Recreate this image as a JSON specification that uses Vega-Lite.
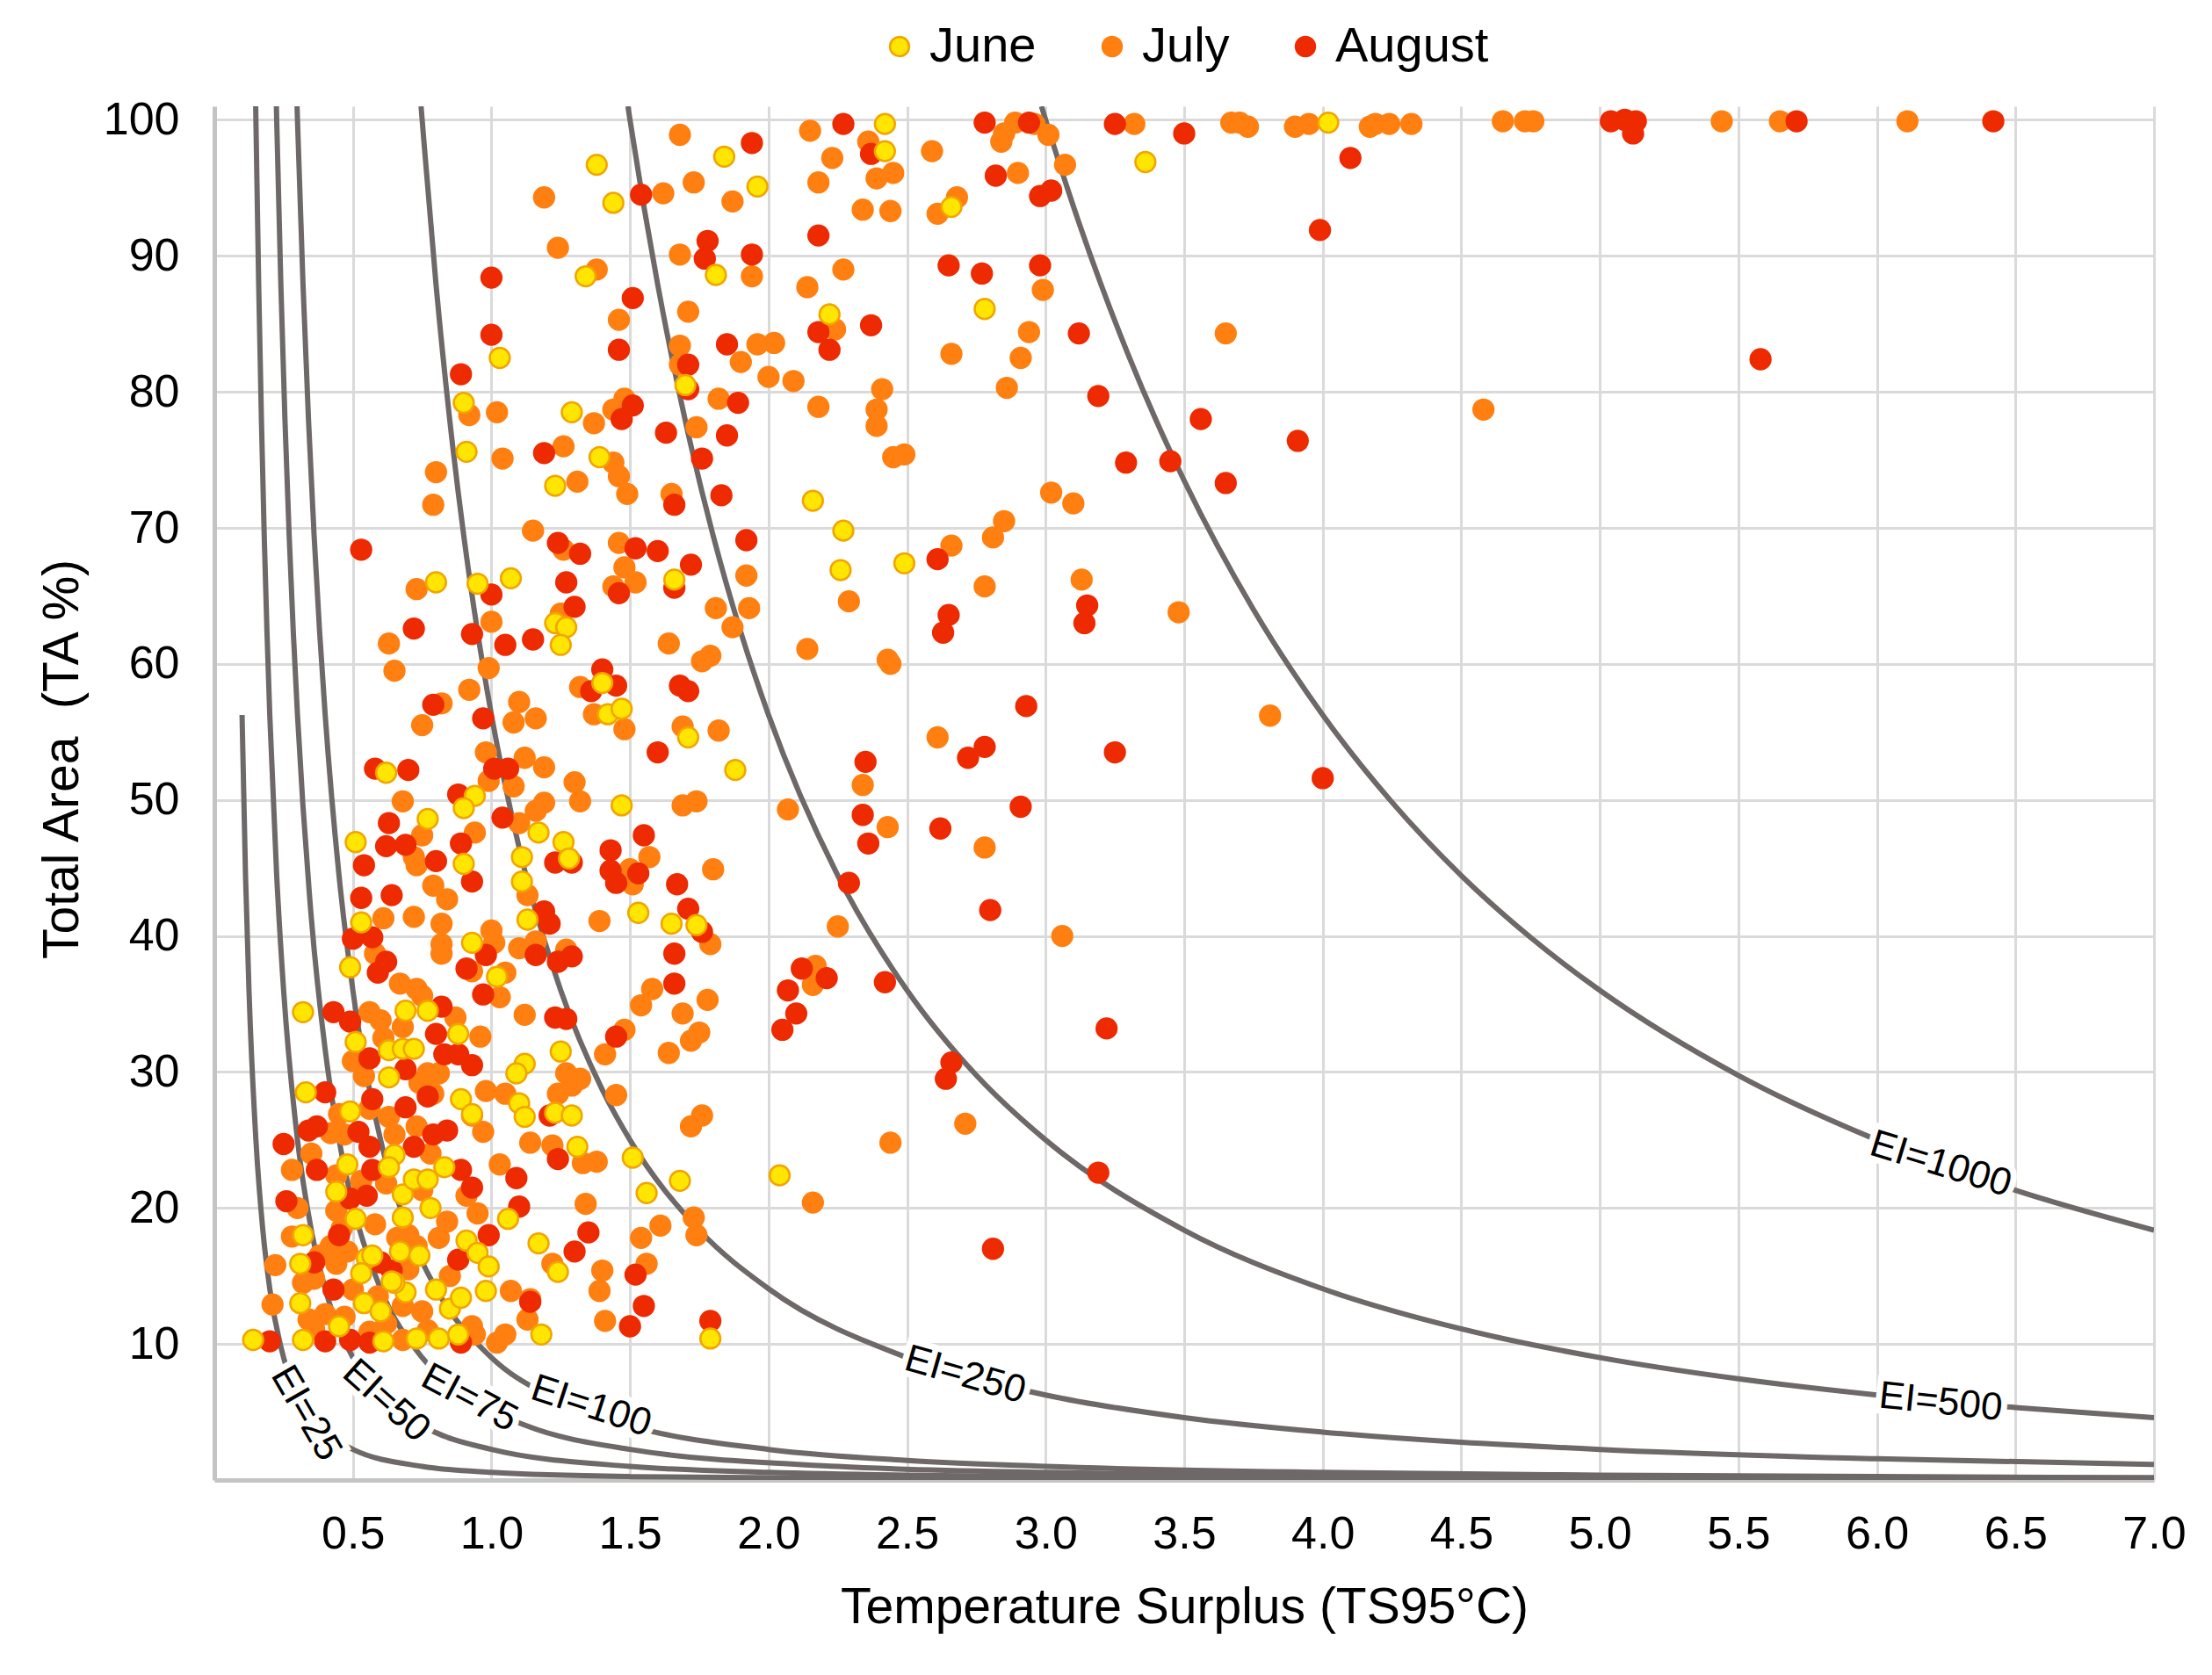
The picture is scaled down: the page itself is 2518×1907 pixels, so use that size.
{
  "$schema": "https://vega.github.io/schema/vega-lite/v6.json",
  "description": "Total area vs temperature surplus by month, with EI iso-lines",
  "width": 2208,
  "height": 1564,
  "autosize": {"type": "none"},
  "padding": {"left": 244, "top": 121, "right": 66, "bottom": 222},
  "background": "white",
  "config": {
    "view": {"stroke": null},
    "font": "Liberation Sans, Arial, sans-serif",
    "axis": {
      "grid": true,
      "gridColor": "#DADADA",
      "gridWidth": 3,
      "domainColor": "#C4C4C4",
      "domainWidth": 5,
      "ticks": false,
      "tickSize": 0,
      "labelFontSize": 52,
      "labelColor": "#000000",
      "titleFontSize": 57,
      "titleFontWeight": "normal",
      "titleColor": "#000000"
    }
  },
  "datasets": {
    "curves": [
      {"ei": "1000", "ts": 2.985, "ta": 101}, {"ei": "1000", "ts": 3.0, "ta": 100}, {"ei": "1000", "ts": 3.1, "ta": 93.65}, {"ei": "1000", "ts": 3.2, "ta": 87.89}, {"ei": "1000", "ts": 3.3, "ta": 82.64}, {"ei": "1000", "ts": 3.4, "ta": 77.85}, {"ei": "1000", "ts": 3.5, "ta": 73.47}, {"ei": "1000", "ts": 3.75, "ta": 64}, {"ei": "1000", "ts": 4.0, "ta": 56.25}, {"ei": "1000", "ts": 4.25, "ta": 49.83}, {"ei": "1000", "ts": 4.5, "ta": 44.44}, {"ei": "1000", "ts": 4.75, "ta": 39.89}, {"ei": "1000", "ts": 5.0, "ta": 36}, {"ei": "1000", "ts": 5.5, "ta": 29.75}, {"ei": "1000", "ts": 6.0, "ta": 25}, {"ei": "1000", "ts": 6.5, "ta": 21.3}, {"ei": "1000", "ts": 7.0, "ta": 18.37},
      {"ei": "500", "ts": 1.4925, "ta": 101}, {"ei": "500", "ts": 1.5, "ta": 100}, {"ei": "500", "ts": 1.55, "ta": 93.65}, {"ei": "500", "ts": 1.6, "ta": 87.89}, {"ei": "500", "ts": 1.7, "ta": 77.85}, {"ei": "500", "ts": 1.8, "ta": 69.44}, {"ei": "500", "ts": 1.9, "ta": 62.33}, {"ei": "500", "ts": 2.0, "ta": 56.25}, {"ei": "500", "ts": 2.25, "ta": 44.44}, {"ei": "500", "ts": 2.5, "ta": 36}, {"ei": "500", "ts": 2.75, "ta": 29.75}, {"ei": "500", "ts": 3.0, "ta": 25}, {"ei": "500", "ts": 3.5, "ta": 18.37}, {"ei": "500", "ts": 4.0, "ta": 14.06}, {"ei": "500", "ts": 4.5, "ta": 11.11}, {"ei": "500", "ts": 5.0, "ta": 9}, {"ei": "500", "ts": 5.5, "ta": 7.44}, {"ei": "500", "ts": 6.0, "ta": 6.25}, {"ei": "500", "ts": 6.5, "ta": 5.33}, {"ei": "500", "ts": 7.0, "ta": 4.59},
      {"ei": "250", "ts": 0.746, "ta": 101}, {"ei": "250", "ts": 0.75, "ta": 100}, {"ei": "250", "ts": 0.8, "ta": 87.89}, {"ei": "250", "ts": 0.85, "ta": 77.85}, {"ei": "250", "ts": 0.9, "ta": 69.44}, {"ei": "250", "ts": 0.95, "ta": 62.33}, {"ei": "250", "ts": 1.0, "ta": 56.25}, {"ei": "250", "ts": 1.1, "ta": 46.49}, {"ei": "250", "ts": 1.25, "ta": 36}, {"ei": "250", "ts": 1.4, "ta": 28.7}, {"ei": "250", "ts": 1.5, "ta": 25}, {"ei": "250", "ts": 1.75, "ta": 18.37}, {"ei": "250", "ts": 2.0, "ta": 14.06}, {"ei": "250", "ts": 2.5, "ta": 9}, {"ei": "250", "ts": 3.0, "ta": 6.25}, {"ei": "250", "ts": 3.5, "ta": 4.59}, {"ei": "250", "ts": 4.0, "ta": 3.52}, {"ei": "250", "ts": 5.0, "ta": 2.25}, {"ei": "250", "ts": 6.0, "ta": 1.56}, {"ei": "250", "ts": 7.0, "ta": 1.15},
      {"ei": "100", "ts": 0.2985, "ta": 101}, {"ei": "100", "ts": 0.3, "ta": 100}, {"ei": "100", "ts": 0.32, "ta": 87.89}, {"ei": "100", "ts": 0.34, "ta": 77.85}, {"ei": "100", "ts": 0.36, "ta": 69.44}, {"ei": "100", "ts": 0.38, "ta": 62.33}, {"ei": "100", "ts": 0.4, "ta": 56.25}, {"ei": "100", "ts": 0.45, "ta": 44.44}, {"ei": "100", "ts": 0.5, "ta": 36}, {"ei": "100", "ts": 0.6, "ta": 25}, {"ei": "100", "ts": 0.7, "ta": 18.37}, {"ei": "100", "ts": 0.8, "ta": 14.06}, {"ei": "100", "ts": 1.0, "ta": 9}, {"ei": "100", "ts": 1.2, "ta": 6.25}, {"ei": "100", "ts": 1.5, "ta": 4}, {"ei": "100", "ts": 2.0, "ta": 2.25}, {"ei": "100", "ts": 2.5, "ta": 1.44}, {"ei": "100", "ts": 3.0, "ta": 1}, {"ei": "100", "ts": 4.0, "ta": 0.56}, {"ei": "100", "ts": 5.0, "ta": 0.36}, {"ei": "100", "ts": 7.0, "ta": 0.18},
      {"ei": "75", "ts": 0.2239, "ta": 101}, {"ei": "75", "ts": 0.225, "ta": 100}, {"ei": "75", "ts": 0.24, "ta": 87.89}, {"ei": "75", "ts": 0.255, "ta": 77.85}, {"ei": "75", "ts": 0.27, "ta": 69.44}, {"ei": "75", "ts": 0.285, "ta": 62.33}, {"ei": "75", "ts": 0.3, "ta": 56.25}, {"ei": "75", "ts": 0.35, "ta": 41.33}, {"ei": "75", "ts": 0.4, "ta": 31.64}, {"ei": "75", "ts": 0.45, "ta": 25}, {"ei": "75", "ts": 0.5, "ta": 20.25}, {"ei": "75", "ts": 0.6, "ta": 14.06}, {"ei": "75", "ts": 0.75, "ta": 9}, {"ei": "75", "ts": 0.9, "ta": 6.25}, {"ei": "75", "ts": 1.125, "ta": 4}, {"ei": "75", "ts": 1.5, "ta": 2.25}, {"ei": "75", "ts": 2.25, "ta": 1}, {"ei": "75", "ts": 3.0, "ta": 0.56}, {"ei": "75", "ts": 4.5, "ta": 0.25}, {"ei": "75", "ts": 7.0, "ta": 0.1},
      {"ei": "50", "ts": 0.1493, "ta": 101}, {"ei": "50", "ts": 0.15, "ta": 100}, {"ei": "50", "ts": 0.16, "ta": 87.89}, {"ei": "50", "ts": 0.17, "ta": 77.85}, {"ei": "50", "ts": 0.18, "ta": 69.44}, {"ei": "50", "ts": 0.19, "ta": 62.33}, {"ei": "50", "ts": 0.2, "ta": 56.25}, {"ei": "50", "ts": 0.225, "ta": 44.44}, {"ei": "50", "ts": 0.25, "ta": 36}, {"ei": "50", "ts": 0.3, "ta": 25}, {"ei": "50", "ts": 0.35, "ta": 18.37}, {"ei": "50", "ts": 0.4, "ta": 14.06}, {"ei": "50", "ts": 0.5, "ta": 9}, {"ei": "50", "ts": 0.6, "ta": 6.25}, {"ei": "50", "ts": 0.75, "ta": 4}, {"ei": "50", "ts": 1.0, "ta": 2.25}, {"ei": "50", "ts": 1.5, "ta": 1}, {"ei": "50", "ts": 2.0, "ta": 0.56}, {"ei": "50", "ts": 3.0, "ta": 0.25}, {"ei": "50", "ts": 5.0, "ta": 0.09}, {"ei": "50", "ts": 7.0, "ta": 0.05},
      {"ei": "25", "ts": 0.1, "ta": 56.25}, {"ei": "25", "ts": 0.1125, "ta": 44.44}, {"ei": "25", "ts": 0.125, "ta": 36}, {"ei": "25", "ts": 0.15, "ta": 25}, {"ei": "25", "ts": 0.175, "ta": 18.37}, {"ei": "25", "ts": 0.2, "ta": 14.06}, {"ei": "25", "ts": 0.25, "ta": 9}, {"ei": "25", "ts": 0.3, "ta": 6.25}, {"ei": "25", "ts": 0.375, "ta": 4}, {"ei": "25", "ts": 0.5, "ta": 2.25}, {"ei": "25", "ts": 0.75, "ta": 1}, {"ei": "25", "ts": 1.0, "ta": 0.56}, {"ei": "25", "ts": 1.5, "ta": 0.25}, {"ei": "25", "ts": 2.5, "ta": 0.09}, {"ei": "25", "ts": 4.0, "ta": 0.04}, {"ei": "25", "ts": 7.0, "ta": 0.01}
    ],
    "points": [
      {"month": "July", "ts": 0.36, "ta": 11.1}, {"month": "July", "ts": 0.56, "ta": 10.9}, {"month": "July", "ts": 0.68, "ta": 10.3}, {"month": "July", "ts": 0.94, "ta": 10.7}, {"month": "July", "ts": 1.02, "ta": 10.1}, {"month": "July", "ts": 1.05, "ta": 10.7}, {"month": "July", "ts": 1.41, "ta": 11.7}, {"month": "July", "ts": 0.77, "ta": 11.0},
      {"month": "July", "ts": 0.21, "ta": 12.9}, {"month": "July", "ts": 0.40, "ta": 12.2}, {"month": "July", "ts": 0.34, "ta": 11.8}, {"month": "July", "ts": 0.68, "ta": 12.8}, {"month": "July", "ts": 0.75, "ta": 12.4}, {"month": "July", "ts": 0.93, "ta": 11.3}, {"month": "July", "ts": 1.07, "ta": 13.9}, {"month": "July", "ts": 1.14, "ta": 13.3}, {"month": "July", "ts": 1.13, "ta": 11.8}, {"month": "July", "ts": 1.39, "ta": 13.9}, {"month": "July", "ts": 1.40, "ta": 15.4}, {"month": "July", "ts": 1.56, "ta": 15.9},
      {"month": "July", "ts": 0.22, "ta": 15.8}, {"month": "July", "ts": 0.36, "ta": 14.8}, {"month": "July", "ts": 0.28, "ta": 17.9}, {"month": "July", "ts": 0.42, "ta": 17.2}, {"month": "July", "ts": 0.44, "ta": 15.9}, {"month": "July", "ts": 0.81, "ta": 17.8}, {"month": "July", "ts": 0.70, "ta": 18.0}, {"month": "July", "ts": 1.22, "ta": 15.9}, {"month": "July", "ts": 1.54, "ta": 17.8}, {"month": "July", "ts": 1.61, "ta": 18.7}, {"month": "July", "ts": 1.73, "ta": 19.3}, {"month": "July", "ts": 1.74, "ta": 18.0},
      {"month": "July", "ts": 0.28, "ta": 22.8}, {"month": "July", "ts": 0.44, "ta": 22.4}, {"month": "July", "ts": 0.44, "ta": 19.8}, {"month": "July", "ts": 0.65, "ta": 25.4}, {"month": "July", "ts": 0.75, "ta": 21.3}, {"month": "July", "ts": 0.91, "ta": 20.9}, {"month": "July", "ts": 0.95, "ta": 19.6}, {"month": "July", "ts": 1.03, "ta": 23.2}, {"month": "July", "ts": 1.14, "ta": 24.8}, {"month": "July", "ts": 1.22, "ta": 24.6}, {"month": "July", "ts": 1.33, "ta": 23.3}, {"month": "July", "ts": 1.38, "ta": 23.4}, {"month": "July", "ts": 1.34, "ta": 20.3},
      {"month": "July", "ts": 0.38, "ta": 16.5}, {"month": "July", "ts": 0.46, "ta": 18.5}, {"month": "July", "ts": 0.50, "ta": 14.0}, {"month": "July", "ts": 0.58, "ta": 18.8}, {"month": "July", "ts": 0.62, "ta": 21.8}, {"month": "July", "ts": 0.70, "ta": 15.5}, {"month": "July", "ts": 0.73, "ta": 17.2}, {"month": "July", "ts": 0.85, "ta": 15.0}, {"month": "July", "ts": 0.30, "ta": 20.0}, {"month": "July", "ts": 0.35, "ta": 24.0}, {"month": "July", "ts": 0.47, "ta": 12.0}, {"month": "July", "ts": 0.62, "ta": 11.5}, {"month": "July", "ts": 0.84, "ta": 19.0}, {"month": "July", "ts": 0.53, "ta": 22.0}, {"month": "July", "ts": 0.42, "ta": 25.5}, {"month": "July", "ts": 0.32, "ta": 14.5}, {"month": "July", "ts": 0.59, "ta": 13.5}, {"month": "July", "ts": 0.66, "ta": 17.8}, {"month": "July", "ts": 0.78, "ta": 24.0}, {"month": "July", "ts": 0.48, "ta": 16.8},
      {"month": "July", "ts": 1.08, "ta": 51.0}, {"month": "July", "ts": 1.32, "ta": 49.9}, {"month": "July", "ts": 0.68, "ta": 49.9}, {"month": "July", "ts": 1.69, "ta": 49.6}, {"month": "July", "ts": 1.74, "ta": 49.9},
      {"month": "July", "ts": 0.75, "ta": 47.4}, {"month": "July", "ts": 0.72, "ta": 45.8}, {"month": "July", "ts": 0.73, "ta": 45.2}, {"month": "July", "ts": 0.94, "ta": 47.6}, {"month": "July", "ts": 1.10, "ta": 48.3}, {"month": "July", "ts": 1.16, "ta": 49.2}, {"month": "July", "ts": 1.19, "ta": 49.8}, {"month": "July", "ts": 1.57, "ta": 45.8}, {"month": "July", "ts": 1.50, "ta": 44.9}, {"month": "July", "ts": 1.51, "ta": 43.8}, {"month": "July", "ts": 1.80, "ta": 44.9},
      {"month": "July", "ts": 1.13, "ta": 43.0}, {"month": "July", "ts": 0.79, "ta": 43.7}, {"month": "July", "ts": 0.84, "ta": 42.7}, {"month": "July", "ts": 0.61, "ta": 41.3}, {"month": "July", "ts": 0.72, "ta": 41.4}, {"month": "July", "ts": 0.82, "ta": 40.9}, {"month": "July", "ts": 0.58, "ta": 38.7}, {"month": "July", "ts": 0.82, "ta": 39.4}, {"month": "July", "ts": 0.82, "ta": 38.7}, {"month": "July", "ts": 1.00, "ta": 40.4}, {"month": "July", "ts": 1.01, "ta": 39.5}, {"month": "July", "ts": 0.93, "ta": 37.4}, {"month": "July", "ts": 1.05, "ta": 37.3}, {"month": "July", "ts": 1.10, "ta": 39.1}, {"month": "July", "ts": 1.16, "ta": 39.6}, {"month": "July", "ts": 1.27, "ta": 39.0}, {"month": "July", "ts": 1.39, "ta": 41.1}, {"month": "July", "ts": 1.79, "ta": 39.4}, {"month": "July", "ts": 1.58, "ta": 36.1}, {"month": "July", "ts": 1.54, "ta": 34.9}, {"month": "July", "ts": 1.78, "ta": 35.3}, {"month": "July", "ts": 1.69, "ta": 34.3},
      {"month": "July", "ts": 0.67, "ta": 36.5}, {"month": "July", "ts": 0.73, "ta": 36.1}, {"month": "July", "ts": 0.75, "ta": 35.6}, {"month": "July", "ts": 1.03, "ta": 35.5}, {"month": "July", "ts": 0.56, "ta": 34.4}, {"month": "July", "ts": 0.60, "ta": 33.8}, {"month": "July", "ts": 0.68, "ta": 33.3}, {"month": "July", "ts": 0.87, "ta": 34.0}, {"month": "July", "ts": 0.96, "ta": 32.6}, {"month": "July", "ts": 1.12, "ta": 34.2}, {"month": "July", "ts": 0.50, "ta": 30.8}, {"month": "July", "ts": 1.48, "ta": 33.1}, {"month": "July", "ts": 1.41, "ta": 31.3}, {"month": "July", "ts": 1.75, "ta": 32.9}, {"month": "July", "ts": 1.72, "ta": 32.3}, {"month": "July", "ts": 1.64, "ta": 31.4}, {"month": "July", "ts": 0.61, "ta": 32.5},
      {"month": "July", "ts": 1.27, "ta": 29.9}, {"month": "July", "ts": 1.32, "ta": 29.5}, {"month": "July", "ts": 1.29, "ta": 29.0}, {"month": "July", "ts": 0.54, "ta": 29.7}, {"month": "July", "ts": 0.77, "ta": 29.9}, {"month": "July", "ts": 0.81, "ta": 29.9}, {"month": "July", "ts": 0.74, "ta": 29.2}, {"month": "July", "ts": 0.79, "ta": 28.4}, {"month": "July", "ts": 0.98, "ta": 28.6}, {"month": "July", "ts": 1.05, "ta": 28.4}, {"month": "July", "ts": 1.24, "ta": 28.4}, {"month": "July", "ts": 1.45, "ta": 28.3}, {"month": "July", "ts": 1.76, "ta": 26.8}, {"month": "July", "ts": 1.72, "ta": 26.0}, {"month": "July", "ts": 0.45, "ta": 26.9}, {"month": "July", "ts": 0.56, "ta": 27.3}, {"month": "July", "ts": 0.63, "ta": 26.7}, {"month": "July", "ts": 0.73, "ta": 26.0}, {"month": "July", "ts": 0.93, "ta": 26.8}, {"month": "July", "ts": 0.97, "ta": 25.6}, {"month": "July", "ts": 0.47, "ta": 25.4},
      {"month": "July", "ts": 1.04, "ta": 75.1}, {"month": "July", "ts": 0.80, "ta": 74.1}, {"month": "July", "ts": 0.79, "ta": 71.7}, {"month": "July", "ts": 1.26, "ta": 76.0}, {"month": "July", "ts": 1.44, "ta": 74.8}, {"month": "July", "ts": 1.46, "ta": 73.8}, {"month": "July", "ts": 1.49, "ta": 72.5}, {"month": "July", "ts": 1.31, "ta": 73.4}, {"month": "July", "ts": 1.65, "ta": 72.5}, {"month": "July", "ts": 1.15, "ta": 69.8}, {"month": "July", "ts": 1.26, "ta": 68.4}, {"month": "July", "ts": 1.46, "ta": 68.9}, {"month": "July", "ts": 1.92, "ta": 66.5}, {"month": "July", "ts": 1.48, "ta": 67.1}, {"month": "July", "ts": 1.52, "ta": 66.0}, {"month": "July", "ts": 1.44, "ta": 65.7}, {"month": "July", "ts": 1.81, "ta": 64.1}, {"month": "July", "ts": 1.93, "ta": 64.1}, {"month": "July", "ts": 1.87, "ta": 62.7}, {"month": "July", "ts": 1.25, "ta": 63.7}, {"month": "July", "ts": 0.73, "ta": 65.5}, {"month": "July", "ts": 1.00, "ta": 63.1}, {"month": "July", "ts": 0.63, "ta": 61.5}, {"month": "July", "ts": 1.64, "ta": 61.5}, {"month": "July", "ts": 1.76, "ta": 60.2}, {"month": "July", "ts": 1.79, "ta": 60.6}, {"month": "July", "ts": 0.65, "ta": 59.5}, {"month": "July", "ts": 0.99, "ta": 59.7}, {"month": "July", "ts": 0.92, "ta": 58.1}, {"month": "July", "ts": 1.32, "ta": 58.3}, {"month": "July", "ts": 0.82, "ta": 57.1}, {"month": "July", "ts": 1.10, "ta": 57.2}, {"month": "July", "ts": 0.75, "ta": 55.5}, {"month": "July", "ts": 1.08, "ta": 55.7}, {"month": "July", "ts": 1.16, "ta": 56.0}, {"month": "July", "ts": 1.37, "ta": 56.3}, {"month": "July", "ts": 1.48, "ta": 55.2}, {"month": "July", "ts": 1.69, "ta": 55.4}, {"month": "July", "ts": 1.82, "ta": 55.1}, {"month": "July", "ts": 0.98, "ta": 53.5}, {"month": "July", "ts": 1.12, "ta": 53.1}, {"month": "July", "ts": 1.19, "ta": 52.4}, {"month": "July", "ts": 0.99, "ta": 51.4}, {"month": "July", "ts": 1.30, "ta": 51.3},
      {"month": "July", "ts": 1.68, "ta": 98.9}, {"month": "July", "ts": 1.87, "ta": 94.0}, {"month": "July", "ts": 1.73, "ta": 95.4}, {"month": "July", "ts": 1.62, "ta": 94.6}, {"month": "July", "ts": 1.19, "ta": 94.3}, {"month": "July", "ts": 1.24, "ta": 90.6}, {"month": "July", "ts": 1.38, "ta": 89.0}, {"month": "July", "ts": 0.92, "ta": 78.3}, {"month": "July", "ts": 1.02, "ta": 78.5}, {"month": "July", "ts": 1.46, "ta": 85.3}, {"month": "July", "ts": 1.71, "ta": 85.9}, {"month": "July", "ts": 1.68, "ta": 90.1}, {"month": "July", "ts": 1.94, "ta": 88.5}, {"month": "July", "ts": 1.68, "ta": 83.4}, {"month": "July", "ts": 1.68, "ta": 82.0}, {"month": "July", "ts": 1.96, "ta": 83.5}, {"month": "July", "ts": 1.90, "ta": 82.2}, {"month": "July", "ts": 2.00, "ta": 81.1}, {"month": "July", "ts": 1.82, "ta": 79.5}, {"month": "July", "ts": 1.37, "ta": 77.7}, {"month": "July", "ts": 1.48, "ta": 79.5}, {"month": "July", "ts": 1.44, "ta": 78.7}, {"month": "July", "ts": 1.74, "ta": 77.4},
      {"month": "July", "ts": 2.15, "ta": 99.2}, {"month": "July", "ts": 2.89, "ta": 99.8}, {"month": "July", "ts": 2.96, "ta": 99.7}, {"month": "July", "ts": 2.85, "ta": 99.0}, {"month": "July", "ts": 2.84, "ta": 98.4}, {"month": "July", "ts": 3.01, "ta": 98.9}, {"month": "July", "ts": 3.32, "ta": 99.7}, {"month": "July", "ts": 3.67, "ta": 99.8}, {"month": "July", "ts": 3.70, "ta": 99.8}, {"month": "July", "ts": 3.73, "ta": 99.5}, {"month": "July", "ts": 3.90, "ta": 99.5}, {"month": "July", "ts": 3.95, "ta": 99.7}, {"month": "July", "ts": 4.17, "ta": 99.5}, {"month": "July", "ts": 4.19, "ta": 99.7}, {"month": "July", "ts": 4.24, "ta": 99.7}, {"month": "July", "ts": 4.32, "ta": 99.7}, {"month": "July", "ts": 3.07, "ta": 96.7}, {"month": "July", "ts": 2.90, "ta": 96.1}, {"month": "July", "ts": 2.59, "ta": 97.7}, {"month": "July", "ts": 2.36, "ta": 98.4}, {"month": "July", "ts": 2.23, "ta": 97.2}, {"month": "July", "ts": 2.18, "ta": 95.4}, {"month": "July", "ts": 2.39, "ta": 95.7}, {"month": "July", "ts": 2.45, "ta": 96.1}, {"month": "July", "ts": 2.34, "ta": 93.4}, {"month": "July", "ts": 2.44, "ta": 93.3}, {"month": "July", "ts": 2.61, "ta": 93.1}, {"month": "July", "ts": 2.68, "ta": 94.3}, {"month": "July", "ts": 2.99, "ta": 87.5}, {"month": "July", "ts": 2.27, "ta": 89.0}, {"month": "July", "ts": 2.14, "ta": 87.7}, {"month": "July", "ts": 2.24, "ta": 84.6}, {"month": "July", "ts": 2.02, "ta": 83.6}, {"month": "July", "ts": 2.94, "ta": 84.4}, {"month": "July", "ts": 2.91, "ta": 82.5}, {"month": "July", "ts": 2.66, "ta": 82.8}, {"month": "July", "ts": 2.86, "ta": 80.3}, {"month": "July", "ts": 3.65, "ta": 84.3}, {"month": "July", "ts": 2.09, "ta": 80.8}, {"month": "July", "ts": 2.41, "ta": 80.2}, {"month": "July", "ts": 2.18, "ta": 78.9}, {"month": "July", "ts": 2.39, "ta": 78.7}, {"month": "July", "ts": 2.39, "ta": 77.5}, {"month": "July", "ts": 2.45, "ta": 75.2}, {"month": "July", "ts": 2.49, "ta": 75.4}, {"month": "July", "ts": 3.02, "ta": 72.6}, {"month": "July", "ts": 3.10, "ta": 71.8}, {"month": "July", "ts": 2.85, "ta": 70.5}, {"month": "July", "ts": 2.81, "ta": 69.3}, {"month": "July", "ts": 2.66, "ta": 68.7}, {"month": "July", "ts": 3.13, "ta": 66.2}, {"month": "July", "ts": 2.78, "ta": 65.7}, {"month": "July", "ts": 3.48, "ta": 63.8}, {"month": "July", "ts": 2.29, "ta": 64.6}, {"month": "July", "ts": 2.14, "ta": 61.1}, {"month": "July", "ts": 2.43, "ta": 60.3}, {"month": "July", "ts": 2.44, "ta": 60.0}, {"month": "July", "ts": 3.81, "ta": 56.2}, {"month": "July", "ts": 2.61, "ta": 54.6}, {"month": "July", "ts": 2.34, "ta": 51.1},
      {"month": "July", "ts": 2.07, "ta": 49.3}, {"month": "July", "ts": 2.43, "ta": 48.0}, {"month": "July", "ts": 2.78, "ta": 46.5}, {"month": "July", "ts": 2.25, "ta": 40.7}, {"month": "July", "ts": 3.06, "ta": 40.0}, {"month": "July", "ts": 2.17, "ta": 37.8}, {"month": "July", "ts": 2.16, "ta": 36.4}, {"month": "July", "ts": 2.71, "ta": 26.2}, {"month": "July", "ts": 2.44, "ta": 24.8}, {"month": "July", "ts": 2.16, "ta": 20.4},
      {"month": "July", "ts": 4.65, "ta": 99.9}, {"month": "July", "ts": 4.73, "ta": 99.9}, {"month": "July", "ts": 4.76, "ta": 99.9}, {"month": "July", "ts": 5.44, "ta": 99.9}, {"month": "July", "ts": 5.65, "ta": 99.9}, {"month": "July", "ts": 6.11, "ta": 99.9}, {"month": "July", "ts": 4.58, "ta": 78.7},

      {"month": "August", "ts": 0.20, "ta": 10.2}, {"month": "August", "ts": 0.40, "ta": 10.2}, {"month": "August", "ts": 0.49, "ta": 10.3}, {"month": "August", "ts": 0.56, "ta": 10.1}, {"month": "August", "ts": 0.89, "ta": 10.1}, {"month": "August", "ts": 1.50, "ta": 11.3}, {"month": "August", "ts": 1.79, "ta": 11.7},
      {"month": "August", "ts": 1.14, "ta": 13.1}, {"month": "August", "ts": 1.52, "ta": 15.1}, {"month": "August", "ts": 1.55, "ta": 12.8}, {"month": "August", "ts": 0.43, "ta": 14.0}, {"month": "August", "ts": 0.64, "ta": 15.4}, {"month": "August", "ts": 0.88, "ta": 16.2}, {"month": "August", "ts": 1.30, "ta": 16.8}, {"month": "August", "ts": 1.35, "ta": 18.2},
      {"month": "August", "ts": 0.25, "ta": 24.7}, {"month": "August", "ts": 0.26, "ta": 20.5}, {"month": "August", "ts": 0.37, "ta": 22.8}, {"month": "August", "ts": 0.49, "ta": 20.7}, {"month": "August", "ts": 0.55, "ta": 20.9}, {"month": "August", "ts": 0.57, "ta": 22.8}, {"month": "August", "ts": 0.56, "ta": 24.5}, {"month": "August", "ts": 0.79, "ta": 25.4}, {"month": "August", "ts": 0.89, "ta": 22.8}, {"month": "August", "ts": 0.93, "ta": 21.5}, {"month": "August", "ts": 1.10, "ta": 20.1}, {"month": "August", "ts": 1.09, "ta": 22.2}, {"month": "August", "ts": 1.24, "ta": 23.6}, {"month": "August", "ts": 0.99, "ta": 18.0},
      {"month": "August", "ts": 0.45, "ta": 18.0}, {"month": "August", "ts": 0.60, "ta": 16.0}, {"month": "August", "ts": 0.36, "ta": 16.0}, {"month": "August", "ts": 0.72, "ta": 24.5},
      {"month": "August", "ts": 0.88, "ta": 50.4},
      {"month": "August", "ts": 0.63, "ta": 48.3}, {"month": "August", "ts": 0.62, "ta": 46.6}, {"month": "August", "ts": 0.69, "ta": 46.7}, {"month": "August", "ts": 0.80, "ta": 45.5}, {"month": "August", "ts": 0.89, "ta": 46.8}, {"month": "August", "ts": 0.54, "ta": 45.2}, {"month": "August", "ts": 0.93, "ta": 44.0}, {"month": "August", "ts": 1.04, "ta": 48.7}, {"month": "August", "ts": 1.23, "ta": 45.4}, {"month": "August", "ts": 1.29, "ta": 45.4}, {"month": "August", "ts": 1.43, "ta": 46.3}, {"month": "August", "ts": 1.55, "ta": 47.4}, {"month": "August", "ts": 1.43, "ta": 44.8}, {"month": "August", "ts": 1.53, "ta": 44.6}, {"month": "August", "ts": 1.45, "ta": 43.9}, {"month": "August", "ts": 1.67, "ta": 43.8},
      {"month": "August", "ts": 0.53, "ta": 42.8}, {"month": "August", "ts": 0.64, "ta": 43.0}, {"month": "August", "ts": 0.50, "ta": 39.8}, {"month": "August", "ts": 0.57, "ta": 39.9}, {"month": "August", "ts": 0.62, "ta": 38.1}, {"month": "August", "ts": 0.59, "ta": 37.3}, {"month": "August", "ts": 0.98, "ta": 38.6}, {"month": "August", "ts": 0.91, "ta": 37.6}, {"month": "August", "ts": 1.19, "ta": 41.8}, {"month": "August", "ts": 1.21, "ta": 40.9}, {"month": "August", "ts": 1.16, "ta": 38.6}, {"month": "August", "ts": 1.24, "ta": 38.1}, {"month": "August", "ts": 1.29, "ta": 38.5}, {"month": "August", "ts": 1.71, "ta": 42.0}, {"month": "August", "ts": 1.76, "ta": 40.3}, {"month": "August", "ts": 1.66, "ta": 38.7}, {"month": "August", "ts": 1.66, "ta": 36.5},
      {"month": "August", "ts": 0.97, "ta": 35.7}, {"month": "August", "ts": 0.43, "ta": 34.4}, {"month": "August", "ts": 0.49, "ta": 33.7}, {"month": "August", "ts": 0.82, "ta": 34.8}, {"month": "August", "ts": 0.80, "ta": 32.8}, {"month": "August", "ts": 1.23, "ta": 34.0}, {"month": "August", "ts": 1.27, "ta": 33.9}, {"month": "August", "ts": 0.83, "ta": 31.3}, {"month": "August", "ts": 0.88, "ta": 31.3}, {"month": "August", "ts": 0.93, "ta": 30.5}, {"month": "August", "ts": 0.56, "ta": 31.0}, {"month": "August", "ts": 1.45, "ta": 32.6},
      {"month": "August", "ts": 0.69, "ta": 30.2}, {"month": "August", "ts": 0.77, "ta": 28.2}, {"month": "August", "ts": 1.21, "ta": 26.8}, {"month": "August", "ts": 0.40, "ta": 28.5}, {"month": "August", "ts": 0.37, "ta": 26.0}, {"month": "August", "ts": 0.34, "ta": 25.7}, {"month": "August", "ts": 0.57, "ta": 28.0}, {"month": "August", "ts": 0.69, "ta": 27.4}, {"month": "August", "ts": 0.84, "ta": 25.7}, {"month": "August", "ts": 0.52, "ta": 25.6},
      {"month": "August", "ts": 1.19, "ta": 75.5}, {"month": "August", "ts": 1.76, "ta": 75.1}, {"month": "August", "ts": 1.83, "ta": 72.4}, {"month": "August", "ts": 1.66, "ta": 71.7}, {"month": "August", "ts": 0.53, "ta": 68.4}, {"month": "August", "ts": 1.24, "ta": 68.9}, {"month": "August", "ts": 1.32, "ta": 68.1}, {"month": "August", "ts": 1.52, "ta": 68.5}, {"month": "August", "ts": 1.60, "ta": 68.3}, {"month": "August", "ts": 1.92, "ta": 69.1}, {"month": "August", "ts": 1.46, "ta": 65.2}, {"month": "August", "ts": 1.66, "ta": 65.6}, {"month": "August", "ts": 1.72, "ta": 67.3}, {"month": "August", "ts": 1.27, "ta": 66.0}, {"month": "August", "ts": 1.30, "ta": 64.2}, {"month": "August", "ts": 1.00, "ta": 65.1}, {"month": "August", "ts": 0.72, "ta": 62.6}, {"month": "August", "ts": 0.93, "ta": 62.2}, {"month": "August", "ts": 1.05, "ta": 61.4}, {"month": "August", "ts": 1.15, "ta": 61.8}, {"month": "August", "ts": 1.40, "ta": 59.6}, {"month": "August", "ts": 1.45, "ta": 58.4}, {"month": "August", "ts": 1.36, "ta": 58.0}, {"month": "August", "ts": 1.68, "ta": 58.4}, {"month": "August", "ts": 1.71, "ta": 58.0}, {"month": "August", "ts": 0.79, "ta": 57.0}, {"month": "August", "ts": 0.97, "ta": 56.0}, {"month": "August", "ts": 1.60, "ta": 53.5}, {"month": "August", "ts": 1.01, "ta": 52.3}, {"month": "August", "ts": 1.06, "ta": 52.3}, {"month": "August", "ts": 0.58, "ta": 52.3}, {"month": "August", "ts": 0.70, "ta": 52.2},
      {"month": "August", "ts": 1.94, "ta": 98.3}, {"month": "August", "ts": 1.54, "ta": 94.5}, {"month": "August", "ts": 1.00, "ta": 88.4}, {"month": "August", "ts": 1.00, "ta": 84.2}, {"month": "August", "ts": 0.89, "ta": 81.3}, {"month": "August", "ts": 1.51, "ta": 86.9}, {"month": "August", "ts": 1.46, "ta": 83.1}, {"month": "August", "ts": 1.78, "ta": 91.1}, {"month": "August", "ts": 1.77, "ta": 89.8}, {"month": "August", "ts": 1.94, "ta": 90.1}, {"month": "August", "ts": 1.71, "ta": 82.0}, {"month": "August", "ts": 1.71, "ta": 80.2}, {"month": "August", "ts": 1.85, "ta": 83.5}, {"month": "August", "ts": 1.89, "ta": 79.2}, {"month": "August", "ts": 1.51, "ta": 79.0}, {"month": "August", "ts": 1.47, "ta": 78.0}, {"month": "August", "ts": 1.63, "ta": 77.0}, {"month": "August", "ts": 1.85, "ta": 76.8},
      {"month": "August", "ts": 2.27, "ta": 99.7}, {"month": "August", "ts": 2.78, "ta": 99.8}, {"month": "August", "ts": 2.94, "ta": 99.8}, {"month": "August", "ts": 3.25, "ta": 99.7}, {"month": "August", "ts": 3.50, "ta": 99.0}, {"month": "August", "ts": 4.10, "ta": 97.2}, {"month": "August", "ts": 3.99, "ta": 91.9}, {"month": "August", "ts": 2.98, "ta": 94.4}, {"month": "August", "ts": 3.02, "ta": 94.8}, {"month": "August", "ts": 2.82, "ta": 95.9}, {"month": "August", "ts": 2.37, "ta": 97.5}, {"month": "August", "ts": 2.18, "ta": 91.5}, {"month": "August", "ts": 2.65, "ta": 89.3}, {"month": "August", "ts": 2.77, "ta": 88.7}, {"month": "August", "ts": 2.98, "ta": 89.3}, {"month": "August", "ts": 2.18, "ta": 84.4}, {"month": "August", "ts": 2.22, "ta": 83.1}, {"month": "August", "ts": 2.37, "ta": 84.9}, {"month": "August", "ts": 3.12, "ta": 84.3}, {"month": "August", "ts": 3.19, "ta": 79.7}, {"month": "August", "ts": 3.56, "ta": 78.0}, {"month": "August", "ts": 3.91, "ta": 76.4}, {"month": "August", "ts": 3.29, "ta": 74.8}, {"month": "August", "ts": 3.45, "ta": 74.9}, {"month": "August", "ts": 3.65, "ta": 73.3}, {"month": "August", "ts": 2.61, "ta": 67.7}, {"month": "August", "ts": 3.15, "ta": 64.3}, {"month": "August", "ts": 3.14, "ta": 63.0}, {"month": "August", "ts": 2.65, "ta": 63.6}, {"month": "August", "ts": 2.63, "ta": 62.3}, {"month": "August", "ts": 2.93, "ta": 56.9}, {"month": "August", "ts": 2.78, "ta": 53.9}, {"month": "August", "ts": 2.72, "ta": 53.1}, {"month": "August", "ts": 3.25, "ta": 53.5}, {"month": "August", "ts": 2.35, "ta": 52.8}, {"month": "August", "ts": 4.00, "ta": 51.6},
      {"month": "August", "ts": 2.34, "ta": 48.9}, {"month": "August", "ts": 2.36, "ta": 46.8}, {"month": "August", "ts": 2.91, "ta": 49.5}, {"month": "August", "ts": 2.62, "ta": 47.9}, {"month": "August", "ts": 2.29, "ta": 43.9}, {"month": "August", "ts": 2.80, "ta": 41.9}, {"month": "August", "ts": 2.12, "ta": 37.6}, {"month": "August", "ts": 2.21, "ta": 36.9}, {"month": "August", "ts": 2.07, "ta": 36.0}, {"month": "August", "ts": 2.10, "ta": 34.3}, {"month": "August", "ts": 2.05, "ta": 33.1}, {"month": "August", "ts": 2.42, "ta": 36.6}, {"month": "August", "ts": 3.22, "ta": 33.2}, {"month": "August", "ts": 2.66, "ta": 30.7}, {"month": "August", "ts": 2.64, "ta": 29.5}, {"month": "August", "ts": 3.19, "ta": 22.6}, {"month": "August", "ts": 2.81, "ta": 17.0},
      {"month": "August", "ts": 5.04, "ta": 99.9}, {"month": "August", "ts": 5.09, "ta": 100}, {"month": "August", "ts": 5.13, "ta": 99.9}, {"month": "August", "ts": 5.12, "ta": 99.0}, {"month": "August", "ts": 5.71, "ta": 99.9}, {"month": "August", "ts": 6.42, "ta": 99.9}, {"month": "August", "ts": 5.58, "ta": 82.4},

      {"month": "June", "ts": 0.14, "ta": 10.3}, {"month": "June", "ts": 0.32, "ta": 10.3}, {"month": "June", "ts": 0.45, "ta": 11.3}, {"month": "June", "ts": 0.61, "ta": 10.2}, {"month": "June", "ts": 0.73, "ta": 10.4}, {"month": "June", "ts": 0.81, "ta": 10.4}, {"month": "June", "ts": 0.88, "ta": 10.7}, {"month": "June", "ts": 1.18, "ta": 10.7}, {"month": "June", "ts": 1.79, "ta": 10.4},
      {"month": "June", "ts": 0.31, "ta": 13.0}, {"month": "June", "ts": 0.54, "ta": 13.0}, {"month": "June", "ts": 0.60, "ta": 12.4}, {"month": "June", "ts": 0.69, "ta": 13.8}, {"month": "June", "ts": 0.65, "ta": 14.5}, {"month": "June", "ts": 0.80, "ta": 14.0}, {"month": "June", "ts": 0.85, "ta": 12.6}, {"month": "June", "ts": 0.89, "ta": 13.4}, {"month": "June", "ts": 0.98, "ta": 13.9},
      {"month": "June", "ts": 0.31, "ta": 15.9}, {"month": "June", "ts": 0.32, "ta": 18.0}, {"month": "June", "ts": 0.55, "ta": 16.3}, {"month": "June", "ts": 0.57, "ta": 16.5}, {"month": "June", "ts": 0.53, "ta": 15.2}, {"month": "June", "ts": 0.64, "ta": 14.6}, {"month": "June", "ts": 0.67, "ta": 16.8}, {"month": "June", "ts": 0.74, "ta": 16.5}, {"month": "June", "ts": 0.91, "ta": 17.6}, {"month": "June", "ts": 0.95, "ta": 16.7}, {"month": "June", "ts": 0.99, "ta": 15.7}, {"month": "June", "ts": 1.17, "ta": 17.4}, {"month": "June", "ts": 1.24, "ta": 15.3},
      {"month": "June", "ts": 0.48, "ta": 23.2}, {"month": "June", "ts": 0.44, "ta": 21.2}, {"month": "June", "ts": 0.51, "ta": 19.2}, {"month": "June", "ts": 0.65, "ta": 23.9}, {"month": "June", "ts": 0.63, "ta": 23.0}, {"month": "June", "ts": 0.68, "ta": 21.0}, {"month": "June", "ts": 0.68, "ta": 19.3}, {"month": "June", "ts": 0.72, "ta": 22.1}, {"month": "June", "ts": 0.77, "ta": 22.1}, {"month": "June", "ts": 0.78, "ta": 20.0}, {"month": "June", "ts": 0.83, "ta": 23.0}, {"month": "June", "ts": 1.06, "ta": 19.2}, {"month": "June", "ts": 1.31, "ta": 24.5}, {"month": "June", "ts": 1.51, "ta": 23.7}, {"month": "June", "ts": 1.68, "ta": 22.0}, {"month": "June", "ts": 1.56, "ta": 21.1},
      {"month": "June", "ts": 0.94, "ta": 50.3}, {"month": "June", "ts": 0.90, "ta": 49.4}, {"month": "June", "ts": 1.47, "ta": 49.6},
      {"month": "June", "ts": 0.77, "ta": 48.6}, {"month": "June", "ts": 0.51, "ta": 46.9}, {"month": "June", "ts": 0.90, "ta": 45.3}, {"month": "June", "ts": 1.17, "ta": 47.6}, {"month": "June", "ts": 1.11, "ta": 45.8}, {"month": "June", "ts": 1.26, "ta": 46.9}, {"month": "June", "ts": 1.28, "ta": 45.7},
      {"month": "June", "ts": 1.11, "ta": 44.0}, {"month": "June", "ts": 0.53, "ta": 41.0}, {"month": "June", "ts": 0.49, "ta": 37.7}, {"month": "June", "ts": 0.93, "ta": 39.5}, {"month": "June", "ts": 1.02, "ta": 37.0}, {"month": "June", "ts": 1.13, "ta": 41.2}, {"month": "June", "ts": 1.53, "ta": 41.7}, {"month": "June", "ts": 1.65, "ta": 40.9}, {"month": "June", "ts": 1.74, "ta": 40.8},
      {"month": "June", "ts": 0.32, "ta": 34.4}, {"month": "June", "ts": 0.69, "ta": 34.5}, {"month": "June", "ts": 0.77, "ta": 34.5}, {"month": "June", "ts": 0.88, "ta": 32.8}, {"month": "June", "ts": 0.51, "ta": 32.2}, {"month": "June", "ts": 0.63, "ta": 31.6}, {"month": "June", "ts": 0.68, "ta": 31.7}, {"month": "June", "ts": 0.72, "ta": 31.7}, {"month": "June", "ts": 1.25, "ta": 31.5},
      {"month": "June", "ts": 1.12, "ta": 30.6}, {"month": "June", "ts": 1.09, "ta": 29.9}, {"month": "June", "ts": 0.63, "ta": 29.6}, {"month": "June", "ts": 0.89, "ta": 28.0}, {"month": "June", "ts": 1.10, "ta": 27.7}, {"month": "June", "ts": 1.12, "ta": 26.7}, {"month": "June", "ts": 1.23, "ta": 27.0}, {"month": "June", "ts": 1.29, "ta": 26.8}, {"month": "June", "ts": 0.33, "ta": 28.5}, {"month": "June", "ts": 0.49, "ta": 27.1}, {"month": "June", "ts": 0.93, "ta": 26.9},
      {"month": "June", "ts": 0.91, "ta": 75.6}, {"month": "June", "ts": 1.39, "ta": 75.2}, {"month": "June", "ts": 1.23, "ta": 73.1}, {"month": "June", "ts": 1.66, "ta": 66.2}, {"month": "June", "ts": 1.23, "ta": 63.0}, {"month": "June", "ts": 1.27, "ta": 62.7}, {"month": "June", "ts": 1.25, "ta": 61.4}, {"month": "June", "ts": 0.80, "ta": 66.0}, {"month": "June", "ts": 0.95, "ta": 65.9}, {"month": "June", "ts": 1.07, "ta": 66.3}, {"month": "June", "ts": 1.40, "ta": 58.6}, {"month": "June", "ts": 1.42, "ta": 56.3}, {"month": "June", "ts": 1.47, "ta": 56.7}, {"month": "June", "ts": 1.71, "ta": 54.6}, {"month": "June", "ts": 1.88, "ta": 52.2}, {"month": "June", "ts": 0.62, "ta": 52.0},
      {"month": "June", "ts": 1.84, "ta": 97.3}, {"month": "June", "ts": 1.96, "ta": 95.1}, {"month": "June", "ts": 1.38, "ta": 96.7}, {"month": "June", "ts": 1.44, "ta": 93.9}, {"month": "June", "ts": 1.34, "ta": 88.5}, {"month": "June", "ts": 1.03, "ta": 82.5}, {"month": "June", "ts": 0.90, "ta": 79.2}, {"month": "June", "ts": 1.81, "ta": 88.6}, {"month": "June", "ts": 1.70, "ta": 80.5}, {"month": "June", "ts": 1.29, "ta": 78.5},
      {"month": "June", "ts": 2.42, "ta": 99.7}, {"month": "June", "ts": 4.02, "ta": 99.8}, {"month": "June", "ts": 3.36, "ta": 96.9}, {"month": "June", "ts": 2.42, "ta": 97.7}, {"month": "June", "ts": 2.66, "ta": 93.6}, {"month": "June", "ts": 2.22, "ta": 85.7}, {"month": "June", "ts": 2.78, "ta": 86.1}, {"month": "June", "ts": 2.16, "ta": 72.0}, {"month": "June", "ts": 2.27, "ta": 69.8}, {"month": "June", "ts": 2.26, "ta": 66.9}, {"month": "June", "ts": 2.49, "ta": 67.4},
      {"month": "June", "ts": 2.04, "ta": 22.4}
    ]
  },
  "encoding": {
    "x": {
      "field": "ts",
      "type": "quantitative",
      "scale": {"domain": [0, 7], "nice": false, "zero": false},
      "axis": {
        "values": [0.5, 1, 1.5, 2, 2.5, 3, 3.5, 4, 4.5, 5, 5.5, 6, 6.5, 7],
        "format": ".1f",
        "labelPadding": 36,
        "labelFlush": false,
        "title": "Temperature Surplus (TS95°C)",
        "titlePadding": 30
      }
    },
    "y": {
      "field": "ta",
      "type": "quantitative",
      "scale": {"domain": [0, 101], "nice": false},
      "axis": {
        "values": [10, 20, 30, 40, 50, 60, 70, 80, 90, 100],
        "format": "d",
        "labelPadding": 40,
        "title": "Total Area\u00a0 (TA %)",
        "titleX": -156,
        "titleY": 743,
        "titleAngle": -90,
        "titleBaseline": "alphabetic",
        "titleAlign": "center"
      }
    }
  },
  "layer": [
    {
      "data": {"name": "curves"},
      "mark": {"type": "line", "interpolate": "monotone", "color": "#6E6868", "strokeWidth": 6, "clip": true},
      "encoding": {"detail": {"field": "ei", "type": "nominal"}}
    },
    {
      "data": {"name": "points"},
      "mark": {"type": "circle", "opacity": 1, "strokeWidth": 2.5, "size": 520},
      "encoding": {
        "fill": {
          "field": "month",
          "type": "nominal",
          "scale": {"domain": ["June", "July", "August"], "range": ["#FFE500", "#FF7F10", "#EE2A00"]},
          "legend": {
            "orient": "none",
            "legendX": 752,
            "legendY": -96,
            "direction": "horizontal",
            "title": null,
            "labelFontSize": 56,
            "labelColor": "#000000",
            "labelOffset": 6,
            "labelLimit": 0,
            "symbolType": "circle",
            "symbolSize": 480,
            "symbolStrokeWidth": 2.5,
            "symbolOpacity": 1,
            "columnPadding": 58,
            "padding": 0
          }
        },
        "stroke": {
          "field": "month",
          "type": "nominal",
          "scale": {"domain": ["June", "July", "August"], "range": ["#F2A400", "#FF7F10", "#EE2A00"]}
        }
      }
    },
    {
      "data": {"values": [{"ts": 0.33, "ta": 4.9, "t": "EI=25"}]},
      "encoding": {"text": {"field": "t"}},
      "layer": [
        {"mark": {"type": "text", "angle": 60, "fontSize": 44, "fill": "white", "stroke": "white", "strokeWidth": 14}},
        {"mark": {"type": "text", "angle": 60, "fontSize": 44, "color": "#000000"}}
      ]
    },
    {
      "data": {"values": [{"ts": 0.62, "ta": 5.8, "t": "EI=50"}]},
      "encoding": {"text": {"field": "t"}},
      "layer": [
        {"mark": {"type": "text", "angle": 42, "fontSize": 44, "fill": "white", "stroke": "white", "strokeWidth": 14}},
        {"mark": {"type": "text", "angle": 42, "fontSize": 44, "color": "#000000"}}
      ]
    },
    {
      "data": {"values": [{"ts": 0.92, "ta": 6.0, "t": "EI=75"}]},
      "encoding": {"text": {"field": "t"}},
      "layer": [
        {"mark": {"type": "text", "angle": 28, "fontSize": 44, "fill": "white", "stroke": "white", "strokeWidth": 14}},
        {"mark": {"type": "text", "angle": 28, "fontSize": 44, "color": "#000000"}}
      ]
    },
    {
      "data": {"values": [{"ts": 1.36, "ta": 5.4, "t": "EI=100"}]},
      "encoding": {"text": {"field": "t"}},
      "layer": [
        {"mark": {"type": "text", "angle": 18, "fontSize": 44, "fill": "white", "stroke": "white", "strokeWidth": 14}},
        {"mark": {"type": "text", "angle": 18, "fontSize": 44, "color": "#000000"}}
      ]
    },
    {
      "data": {"values": [{"ts": 2.71, "ta": 7.7, "t": "EI=250"}]},
      "encoding": {"text": {"field": "t"}},
      "layer": [
        {"mark": {"type": "text", "angle": 16, "fontSize": 44, "fill": "white", "stroke": "white", "strokeWidth": 14}},
        {"mark": {"type": "text", "angle": 16, "fontSize": 44, "color": "#000000"}}
      ]
    },
    {
      "data": {"values": [{"ts": 6.23, "ta": 5.7, "t": "EI=500"}]},
      "encoding": {"text": {"field": "t"}},
      "layer": [
        {"mark": {"type": "text", "angle": 6, "fontSize": 44, "fill": "white", "stroke": "white", "strokeWidth": 14}},
        {"mark": {"type": "text", "angle": 6, "fontSize": 44, "color": "#000000"}}
      ]
    },
    {
      "data": {"values": [{"ts": 6.23, "ta": 23.2, "t": "EI=1000"}]},
      "encoding": {"text": {"field": "t"}},
      "layer": [
        {"mark": {"type": "text", "angle": 17, "fontSize": 44, "fill": "white", "stroke": "white", "strokeWidth": 14}},
        {"mark": {"type": "text", "angle": 17, "fontSize": 44, "color": "#000000"}}
      ]
    }
  ]
}
